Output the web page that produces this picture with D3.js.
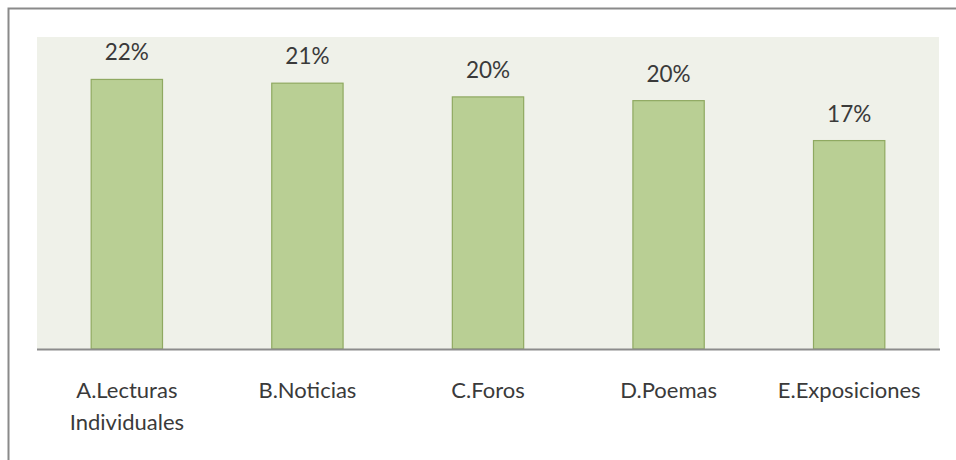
<!DOCTYPE html>
<html>
<head>
<meta charset="utf-8">
<script src="https://cdn.jsdelivr.net/npm/d3@7"></script>
<style>
  body { margin: 0; background: #fff; }
  svg { display: block; }
  text { font-family: Lato, "Open Sans", sans-serif; fill: #3a3a3a; }
</style>
</head>
<body>
<svg width="956" height="460"></svg>
<script>
var categories = ["A.Lecturas Individuales", "B.Noticias", "C.Foros", "D.Poemas", "E.Exposiciones"];
var values = [0.216, 0.213, 0.202, 0.199, 0.167];

var svg = d3.select("svg");

// outer frame, only top and left edges show
svg.append("path")
    .attr("d", "M8.5,460V8.5H956")
    .attr("fill", "none")
    .attr("stroke", "#8a8a8a")
    .attr("stroke-width", 2);

var plot = { left: 37, right: 939, top: 37, bottom: 349 };

svg.append("rect")
    .attr("x", plot.left)
    .attr("y", plot.top)
    .attr("width", plot.right - plot.left)
    .attr("height", plot.bottom - plot.top)
    .attr("fill", "#eff1e9");

var x = d3.scaleBand()
    .domain(categories)
    .range([plot.left, plot.right])
    .paddingInner(0.605)
    .paddingOuter(0.3);

var y = d3.scaleLinear()
    .domain([0, 0.25])
    .range([plot.bottom, plot.top]);

svg.append("g")
    .selectAll("rect")
    .data(values)
    .enter()
  .append("rect")
    .attr("x", function(d, i) { return x(categories[i]); })
    .attr("y", function(d) { return y(d); })
    .attr("width", x.bandwidth())
    .attr("height", function(d) { return plot.bottom - y(d); })
    .attr("fill", "#b9cf94")
    .attr("stroke", "#8fa961")
    .attr("stroke-width", 1.2);

var fmt = d3.format(".0%");

svg.append("g")
    .selectAll("text")
    .data(values)
    .enter()
  .append("text")
    .attr("x", function(d, i) { return x(categories[i]) + x.bandwidth() / 2; })
    .attr("y", function(d) { return y(d) - 19; })
    .attr("text-anchor", "middle")
    .style("font-size", "22.5px")
    .text(function(d) { return fmt(d); });

// axis line + category labels
var xAxis = svg.append("g")
    .attr("transform", "translate(0," + plot.bottom + ")")
    .call(d3.axisBottom(x).tickSize(0).tickFormat(""));
xAxis.select(".domain")
    .attr("d", "M" + plot.left + ",0.5H" + (plot.right + 1))
    .attr("stroke", "#8c8c8c")
    .attr("stroke-width", 2);

xAxis.selectAll(".tick").each(function(d) {
    var words = d.split(" ");
    var t = d3.select(this).append("text")
        .attr("text-anchor", "middle")
        .style("font-size", "22px")
        .style("fill", "#3a3a3a");
    words.forEach(function(w, k) {
        t.append("tspan")
            .attr("x", 0)
            .attr("y", 49 + k * 32)
            .text(w);
    });
});
</script>
</body>
</html>
